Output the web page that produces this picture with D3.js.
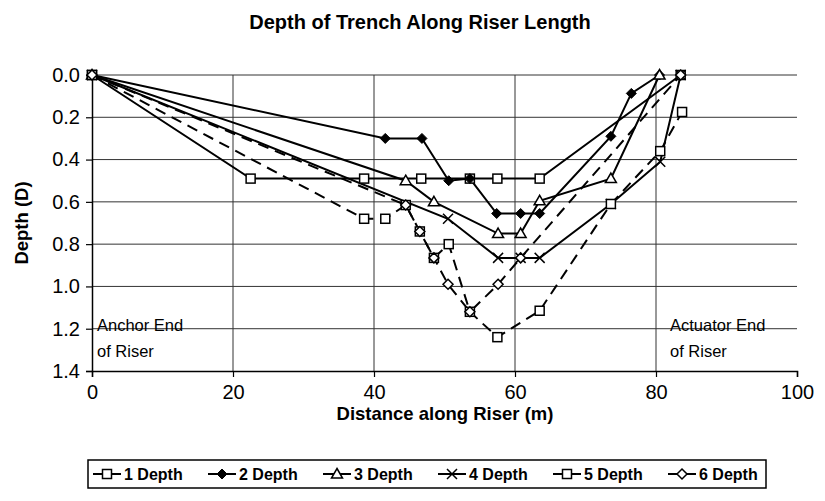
<!DOCTYPE html>
<html>
<head>
<meta charset="utf-8">
<script src="https://cdn.jsdelivr.net/npm/d3@7"></script>
<style>
  body { margin: 0; background: #fff; }
  svg { display: block; font-family: "Liberation Sans", Arial, sans-serif; }
</style>
</head>
<body>
<div id="chart"></div>
<script>
// Data: distance along riser (m) and trench depth (D)
const seriesNames = ['1 Depth', '2 Depth', '3 Depth', '4 Depth', '5 Depth', '6 Depth'];

const dist1 = [0, 22.5, 38.6, 46.7, 53.6, 57.5, 63.5, 83.5];
const depth1 = [0, 0.49, 0.49, 0.49, 0.49, 0.49, 0.49, 0];

const dist2 = [0, 41.6, 46.8, 50.6, 53.6, 57.4, 60.8, 63.5, 73.6, 76.5, 80.5];
const depth2 = [0, 0.30, 0.30, 0.50, 0.49, 0.655, 0.655, 0.655, 0.29, 0.087, 0];

const dist3 = [0, 44.5, 48.5, 57.6, 60.8, 63.5, 73.6, 80.5];
const depth3 = [0, 0.50, 0.60, 0.75, 0.75, 0.595, 0.49, 0];

const dist4 = [0, 50.5, 57.6, 60.8, 63.5, 73.6, 80.6, 83.5];
const depth4 = [0, 0.68, 0.865, 0.865, 0.865, 0.61, 0.41, 0];

const dist5 = [0, 38.6, 41.6, 44.5, 46.5, 48.5, 50.6, 53.6, 57.5, 63.5, 73.6, 80.6, 83.7];
const depth5 = [0, 0.68, 0.68, 0.615, 0.74, 0.865, 0.80, 1.12, 1.24, 1.115, 0.61, 0.36, 0.175];

const dist6 = [0, 44.5, 46.5, 48.5, 50.5, 53.6, 57.6, 60.8, 83.5];
const depth6 = [0, 0.615, 0.74, 0.865, 0.99, 1.12, 0.99, 0.865, 0];

const xTicks = [0, 20, 40, 60, 80, 100];
const yTicks = [0, 0.2, 0.4, 0.6, 0.8, 1.0, 1.2, 1.4];

// Build series from the arrays
const allDist = [dist1, dist2, dist3, dist4, dist5, dist6];
const allDepth = [depth1, depth2, depth3, depth4, depth5, depth6];
const markers = ['square', 'diamondFilled', 'triangle', 'x', 'square', 'diamond'];
const dashed = [false, false, false, false, true, true];

const series = seriesNames.map((name, i) => ({
    name: name,
    marker: markers[i],
    dashed: dashed[i],
    points: allDist[i].map((d, j) => ({ x: d, y: allDepth[i][j] }))
}));

// SVG and plot area
const W = 825, H = 501;
const plot = { left: 92, right: 797, top: 75, bottom: 371 };

const svg = d3.select('#chart')
    .append('svg')
    .attr('width', W)
    .attr('height', H);

const xScale = d3.scaleLinear().domain([0, 100]).range([plot.left, plot.right]);
const yScale = d3.scaleLinear().domain([0, 1.4]).range([plot.top, plot.bottom]);

// Title
svg.append('text')
    .attr('x', 420)
    .attr('y', 29)
    .attr('text-anchor', 'middle')
    .attr('font-size', 20)
    .attr('font-weight', 'bold')
    .text('Depth of Trench Along Riser Length');

// Gridlines
svg.append('g')
    .selectAll('line')
    .data(yTicks.slice(0, -1))
    .enter().append('line')
    .attr('x1', plot.left).attr('x2', plot.right)
    .attr('y1', d => yScale(d)).attr('y2', d => yScale(d))
    .attr('stroke', '#333').attr('stroke-width', 1);
svg.append('g')
    .selectAll('line')
    .data(xTicks.slice(1, -1))
    .enter().append('line')
    .attr('x1', d => xScale(d)).attr('x2', d => xScale(d))
    .attr('y1', plot.top).attr('y2', plot.bottom)
    .attr('stroke', '#333').attr('stroke-width', 1);

// Annotations
const noteFont = 16.5;
svg.append('text').attr('x', 97).attr('y', 331).attr('font-size', noteFont).text('Anchor End');
svg.append('text').attr('x', 97).attr('y', 357).attr('font-size', noteFont).text('of Riser');
svg.append('text').attr('x', 670).attr('y', 331).attr('font-size', noteFont).text('Actuator End');
svg.append('text').attr('x', 670).attr('y', 357).attr('font-size', noteFont).text('of Riser');

// Axes
const yAxis = svg.append('g')
    .attr('transform', `translate(${plot.left},0)`)
    .call(d3.axisLeft(yScale).tickValues(yTicks).tickFormat(d3.format('.1f')).tickSize(6).tickPadding(6));
const xAxis = svg.append('g')
    .attr('transform', `translate(0,${plot.bottom})`)
    .call(d3.axisBottom(xScale).tickValues(xTicks).tickSize(6).tickPadding(8));
[xAxis, yAxis].forEach(g => {
    g.select('.domain').attr('stroke', '#000').attr('stroke-width', 1.5);
    g.selectAll('.tick line').attr('stroke', '#000').attr('stroke-width', 1.2);
    g.selectAll('.tick text')
        .attr('font-size', 20)
        .attr('fill', '#000')
        .attr('font-family', '"Liberation Sans", Arial, sans-serif');
});

// Axis names
svg.append('text')
    .attr('x', 445)
    .attr('y', 420)
    .attr('text-anchor', 'middle')
    .attr('font-size', 18.5)
    .attr('font-weight', 'bold')
    .text('Distance along Riser (m)');
svg.append('text')
    .attr('transform', `translate(28, ${(plot.top + plot.bottom) / 2}) rotate(-90)`)
    .attr('text-anchor', 'middle')
    .attr('font-size', 18.5)
    .attr('font-weight', 'bold')
    .text('Depth (D)');

// Marker drawing
const drawMarker = (sel, type) => {
    if (type === 'square') {
        sel.append('rect')
            .attr('x', -4.5).attr('y', -4.5).attr('width', 9).attr('height', 9)
            .attr('fill', '#fff').attr('stroke', '#000').attr('stroke-width', 1.5);
    } else if (type === 'diamondFilled') {
        sel.append('path')
            .attr('d', 'M0,-5L5,0L0,5L-5,0Z')
            .attr('fill', '#000').attr('stroke', '#000').attr('stroke-width', 1);
    } else if (type === 'diamond') {
        sel.append('path')
            .attr('d', 'M0,-5L5,0L0,5L-5,0Z')
            .attr('fill', '#fff').attr('stroke', '#000').attr('stroke-width', 1.5);
    } else if (type === 'triangle') {
        sel.append('path')
            .attr('d', 'M0,-5.5L5.5,4L-5.5,4Z')
            .attr('fill', '#fff').attr('stroke', '#000').attr('stroke-width', 1.5);
    } else if (type === 'x') {
        sel.append('path')
            .attr('d', 'M-5,-5L5,5M-5,5L5,-5')
            .attr('fill', 'none').attr('stroke', '#000').attr('stroke-width', 1.5);
    }
};

// Lines
const line = d3.line()
    .x(d => xScale(d.x))
    .y(d => yScale(d.y));

svg.append('g')
    .selectAll('path')
    .data(series)
    .enter().append('path')
    .attr('d', d => line(d.points))
    .attr('fill', 'none')
    .attr('stroke', '#000')
    .attr('stroke-width', 2)
    .attr('stroke-dasharray', d => d.dashed ? '11,7' : null);

// Markers
series.forEach(s => {
    svg.append('g')
        .selectAll('g')
        .data(s.points)
        .enter().append('g')
        .attr('transform', d => `translate(${xScale(d.x)},${yScale(d.y)})`)
        .each(function() { drawMarker(d3.select(this), s.marker); });
});

// Legend
const legend = { x: 88, y: 460, w: 678, h: 28, step: 115 };
svg.append('rect')
    .attr('x', legend.x).attr('y', legend.y)
    .attr('width', legend.w).attr('height', legend.h)
    .attr('fill', '#fff').attr('stroke', '#000').attr('stroke-width', 1.5);

const items = svg.append('g')
    .selectAll('g')
    .data(series)
    .enter().append('g')
    .attr('transform', (d, i) => `translate(${legend.x + 5 + i * legend.step},${legend.y + legend.h / 2})`);
items.append('line')
    .attr('x1', 0).attr('x2', 28).attr('y1', 0).attr('y2', 0)
    .attr('stroke', '#000').attr('stroke-width', 2);
items.each(function(d) {
    const g = d3.select(this).append('g').attr('transform', 'translate(14,0)');
    drawMarker(g, d.marker);
});
items.append('text')
    .attr('x', 31)
    .attr('y', 5.5)
    .attr('font-size', 16)
    .attr('font-weight', 'bold')
    .text(d => d.name);
</script>
</body>
</html>
